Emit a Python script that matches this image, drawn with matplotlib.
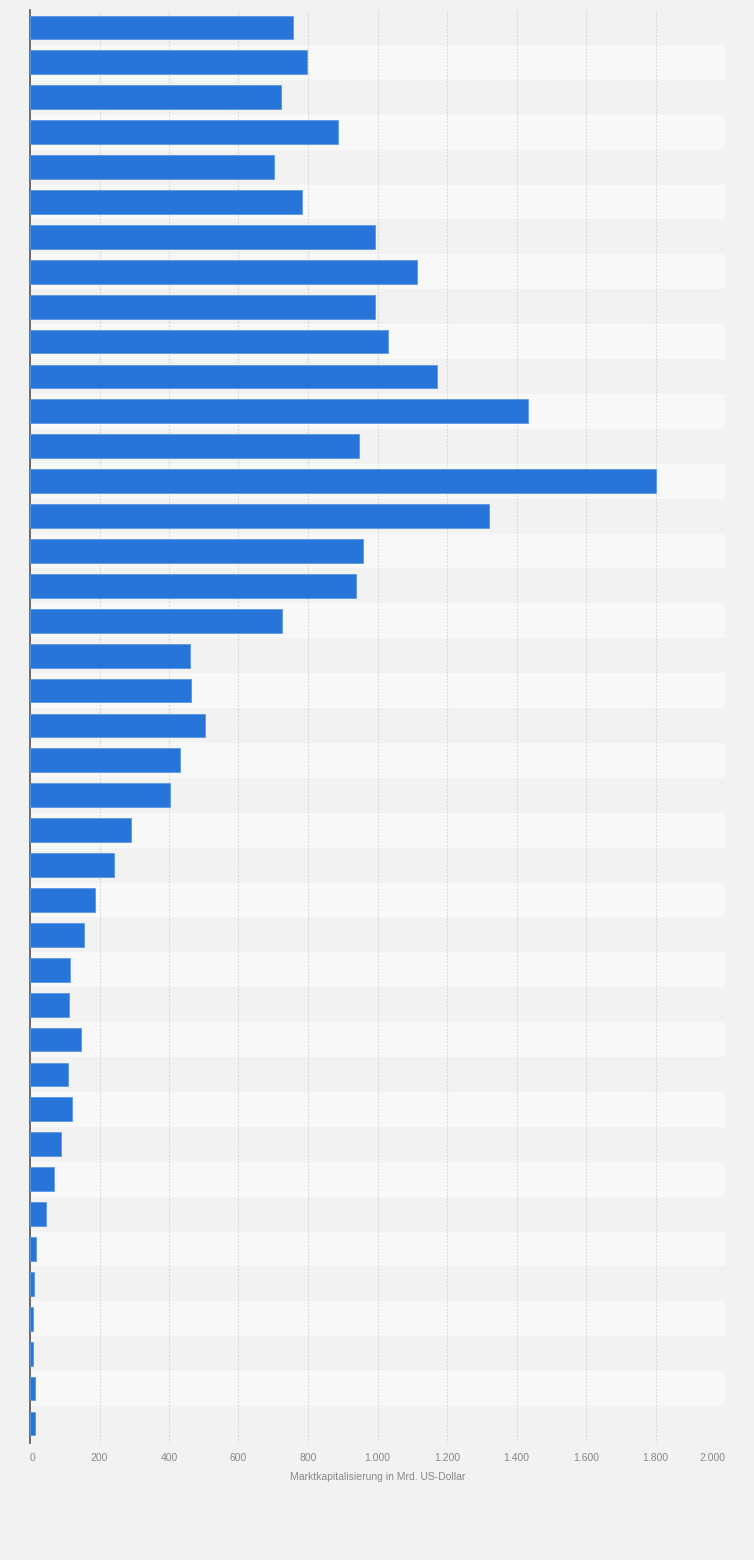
import matplotlib as mpl
import matplotlib.pyplot as plt
import numpy as np

mpl.rcParams['font.family'] = ['Liberation Sans', 'DejaVu Sans']

# Marktkapitalisierung in Mrd. US-Dollar (top to bottom)
values = [756, 797, 721, 885, 701, 784, 993, 1113, 992, 1029,
          1170, 1432, 947, 1800, 1321, 958, 937, 724, 460, 464,
          503, 431, 402, 290, 241, 188, 154, 116, 113, 146,
          110, 122, 90, 70, 46, 17, 11, 9, 9, 14, 14]
xticks = np.arange(0, 2001, 200)
xticklabels = ['0', '200', '400', '600', '800', '1.000', '1.200',
               '1.400', '1.600', '1.800', '2.000']

n = len(values)
ind = np.arange(n)

fig = plt.figure(figsize=(7.54, 15.6), dpi=100)
fig.patch.set_facecolor('#f2f2f2')
ax = fig.add_axes([30 / 754, 1 - 1443 / 1560, 695 / 754, 1433 / 1560])
ax.set_facecolor('#f2f2f2')

# alternating row stripes
for i in ind:
    c = '#f2f2f2' if i % 2 == 0 else '#f8f8f8'
    ax.axhspan(i - 0.5, i + 0.5, color=c, zorder=0, linewidth=0)

ax.barh(ind, values, height=0.68, color='#2775d9', edgecolor='#5a97e6',
        linewidth=0.6, zorder=3)

ax.set_ylim(n - 0.5 + 0.06, -0.5)
ax.set_xlim(0, 2000)
ax.set_xticks(xticks)
ax.set_xticklabels(xticklabels)
ax.set_yticks([])
ax.xaxis.grid(True, color='#d6d6d6', linestyle=(0, (1.5, 1.5)), linewidth=0.8, zorder=1)

for s in ['top', 'right', 'bottom']:
    ax.spines[s].set_visible(False)
ax.spines['left'].set_color('#555555')
ax.spines['left'].set_linewidth(1.2)

ax.tick_params(axis='x', length=0, pad=7, labelsize=7.5, labelcolor='#888888')
tl = ax.get_xticklabels()
tl[0].set_ha('left')
tl[-1].set_ha('right')
ax.set_xlabel('Marktkapitalisierung in Mrd. US-Dollar', fontsize=7.5,
              color='#888888', labelpad=7)

plt.savefig('out.png', dpi=100, facecolor=fig.get_facecolor())
